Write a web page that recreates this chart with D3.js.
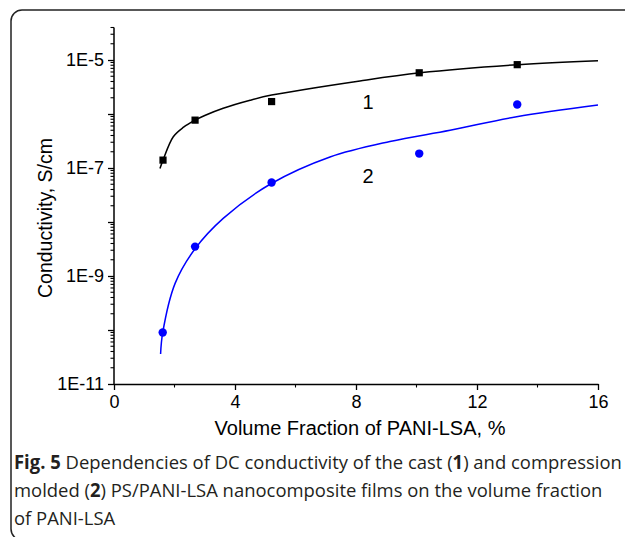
<!DOCTYPE html>
<html><head><meta charset="utf-8">
<script src="https://cdn.jsdelivr.net/npm/d3@7"></script>
<style>body{margin:0;background:#fff}svg{display:block}</style>
</head><body>
<svg id="c" width="625" height="537"></svg>
<script>
// ---- data ----
const cast_x = [1.62, 2.68, 5.21, 10.09, 13.33];
const cast_y = [1.4e-7, 7.7e-7, 1.7e-6, 5.8e-6, 8.2e-6];
const molded_x = [1.61, 2.68, 5.21, 10.09, 13.33];
const molded_y = [9e-11, 3.5e-9, 5.4e-8, 1.85e-7, 1.5e-6];
// fitted curves
const fit1_x = [1.52, 1.62, 1.96, 2.3, 2.68, 3.0, 3.61, 4.5, 5.21, 8.13, 10.12, 13.36, 16];
const fit1_y = [9.8e-8, 1.4e-7, 3.8e-7, 5.7e-7, 7.7e-7, 9.4e-7, 1.28e-6, 1.8e-6, 2.24e-6, 4.1e-6, 5.8e-6, 8.2e-6, 9.7e-6];
const fit2_x = [1.54, 1.61, 2.02, 2.68, 3.61, 5.16, 7.14, 9.12, 11.11, 13.31, 16];
const fit2_y = [3.6e-11, 8.9e-11, 7.3e-10, 3.2e-9, 1.17e-8, 5.0e-8, 1.6e-7, 3.1e-7, 5.0e-7, 8.9e-7, 1.47e-6];
const xMajor = [0, 4, 8, 12, 16];
const xMinor = [2, 6, 10, 14];
const yDecades = [-11, -10, -9, -8, -7, -6, -5];
const yLabelled = [-11, -9, -7, -5];
const seriesLabels = [{t: "1", x: 8.4, y: 1.7e-6}, {t: "2", x: 8.4, y: 7e-8}];
const xTitle = "Volume Fraction of PANI-LSA, %";
const yTitle = "Conductivity, S/cm";

const svg = d3.select("#c");
const FONT = "Arial, 'Liberation Sans', sans-serif";

// frame
svg.append("rect").attr("x", 11).attr("y", 10).attr("width", 700).attr("height", 530)
  .attr("rx", 11).attr("fill", "none").attr("stroke", "#222").attr("stroke-width", 1.5);

const x = d3.scaleLinear().domain([0, 16]).range([114, 598]);
const y = d3.scaleLog().domain([1e-11, 4e-5]).range([384, 27.5]);

// y axis
const yMinor = [];
yDecades.forEach(e => { for (let k = 2; k <= 9; k++) { const v = k * Math.pow(10, e); if (v <= 4e-5) yMinor.push(v); } });
const yAx = svg.append("g").attr("transform", `translate(${x(0)},0)`);
yAx.call(d3.axisLeft(y).tickValues(yDecades.map(e => Math.pow(10, e))).tickSize(6).tickSizeOuter(0)
  .tickFormat(v => { const e = Math.round(Math.log10(v)); return yLabelled.includes(e) ? "1E" + e : ""; }));
yAx.selectAll(".minor").data(yMinor).enter().append("line").attr("class", "minor")
  .attr("x1", 0).attr("x2", -3.5).attr("y1", d => y(d)).attr("y2", d => y(d)).attr("stroke", "#000");
yAx.select(".domain").attr("d", `M0,${y(4e-5)}V${y(1e-11)}`);

// x axis
const xAx = svg.append("g").attr("transform", `translate(0,${y(1e-11)})`);
xAx.call(d3.axisBottom(x).tickValues(xMajor).tickSize(6).tickSizeOuter(0).tickFormat(d3.format("d")));
xAx.selectAll(".minor").data(xMinor).enter().append("line").attr("class", "minor")
  .attr("x1", d => x(d)).attr("x2", d => x(d)).attr("y1", 0).attr("y2", 3.5).attr("stroke", "#000");

svg.selectAll(".domain").attr("stroke", "#000").attr("stroke-width", 1.5);
svg.selectAll(".tick line").attr("stroke", "#000").attr("stroke-width", 1.3);
svg.selectAll(".minor").attr("stroke-width", 1.1);
svg.selectAll(".tick text").attr("font-family", FONT).attr("font-size", 18).attr("fill", "#000");
yAx.selectAll(".tick text").attr("x", -10);
xAx.selectAll(".tick text").attr("y", 11);

// titles
svg.append("text").attr("x", 360).attr("y", 435).attr("text-anchor", "middle")
  .attr("font-family", FONT).attr("font-size", 20).text(xTitle);
svg.append("text").attr("transform", "translate(52,218) rotate(-90)").attr("text-anchor", "middle")
  .attr("font-family", FONT).attr("font-size", 19.5).text(yTitle);

// curves
const line = d3.line().x(d => x(d[0])).y(d => y(d[1])).curve(d3.curveCatmullRom.alpha(0.5));
svg.append("path").datum(fit1_x.map((v, i) => [v, fit1_y[i]])).attr("d", line)
  .attr("fill", "none").attr("stroke", "#000").attr("stroke-width", 1.5);
svg.append("path").datum(fit2_x.map((v, i) => [v, fit2_y[i]])).attr("d", line)
  .attr("fill", "none").attr("stroke", "#0000ff").attr("stroke-width", 1.5);

// markers
svg.selectAll(".sq").data(cast_x.map((v, i) => [v, cast_y[i]])).enter().append("rect")
  .attr("x", d => x(d[0]) - 3.6).attr("y", d => y(d[1]) - 3.6).attr("width", 7.2).attr("height", 7.2).attr("fill", "#000");
svg.selectAll(".ci").data(molded_x.map((v, i) => [v, molded_y[i]])).enter().append("circle")
  .attr("cx", d => x(d[0])).attr("cy", d => y(d[1])).attr("r", 4.2).attr("fill", "#0000ff");

// series labels
svg.selectAll(".sl").data(seriesLabels).enter().append("text")
  .attr("x", d => x(d.x)).attr("y", d => y(d.y)).attr("text-anchor", "middle").attr("dy", "0.35em")
  .attr("font-family", FONT).attr("font-size", 20).text(d => d.t);

// caption
const CF = "'Open Sans', 'Noto Sans', sans-serif";
const cap = [
  {y: 469, w: 608, parts: [["Fig. 5", 700], [" Dependencies of DC conductivity of the cast (", 400], ["1", 700], [") and compression", 400]]},
  {y: 497, w: 551, parts: [["molded (", 400], ["2", 700], [") PS/PANI-LSA nanocomposite films on the volume fraction", 400]]},
  {y: 525, w: 140, parts: [["of PANI-LSA", 400]]}
];
let scaleX = null;
cap.forEach((l, i) => {
  const g = svg.append("g").attr("transform", `translate(14,${l.y})`);
  const t = g.append("text").attr("font-family", CF).attr("font-size", 19).attr("fill", "#231f20");
  l.parts.forEach(p => t.append("tspan").attr("font-weight", p[1]).text(p[0]));
  const nat = t.node().getComputedTextLength();
  if (i === 0) scaleX = l.w / nat;
  g.attr("transform", `translate(14,${l.y}) scale(${scaleX},1)`);
});
</script>
</body></html>
